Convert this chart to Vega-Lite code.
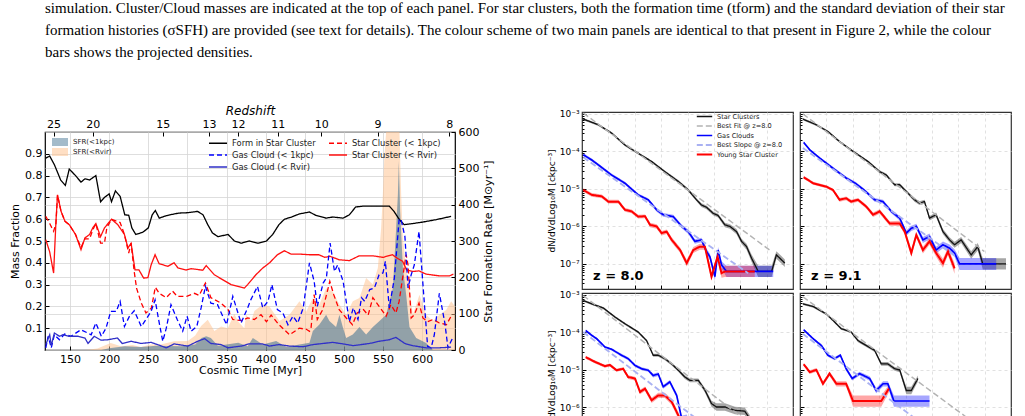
{
  "$schema": "https://vega.github.io/schema/vega-lite/v6.json",
  "background": "white",
  "padding": {"left": 8, "top": 1, "right": 0, "bottom": 0},
  "title": {
    "text": [
      "simulation. Cluster/Cloud masses are indicated at the top of each panel. For star clusters, both the formation time (tform) and the standard deviation of their star",
      "formation histories (σSFH) are provided (see text for details). The colour scheme of two main panels are identical to that present in Figure 2, while the colour",
      "bars shows the projected densities."
    ],
    "anchor": "start",
    "frame": "group",
    "font": "Liberation Serif",
    "fontSize": 15,
    "fontWeight": "normal",
    "color": "#000000",
    "lineHeight": 22,
    "offset": 43
  },
  "datasets": {
    "fraction": [
      {"t":119,"s":"Form in Star Cluster","f":0.88},{"t":124,"s":"Form in Star Cluster","f":0.89},{"t":130,"s":"Form in Star Cluster","f":0.85},{"t":138,"s":"Form in Star Cluster","f":0.78},{"t":144,"s":"Form in Star Cluster","f":0.755},{"t":149,"s":"Form in Star Cluster","f":0.83},{"t":157,"s":"Form in Star Cluster","f":0.8},{"t":164,"s":"Form in Star Cluster","f":0.77},{"t":169,"s":"Form in Star Cluster","f":0.785},{"t":175,"s":"Form in Star Cluster","f":0.78},{"t":183,"s":"Form in Star Cluster","f":0.8},{"t":189,"s":"Form in Star Cluster","f":0.68},{"t":194,"s":"Form in Star Cluster","f":0.7},{"t":200,"s":"Form in Star Cluster","f":0.716},{"t":203,"s":"Form in Star Cluster","f":0.68},{"t":208,"s":"Form in Star Cluster","f":0.73},{"t":214,"s":"Form in Star Cluster","f":0.705},{"t":220,"s":"Form in Star Cluster","f":0.62},{"t":225,"s":"Form in Star Cluster","f":0.618},{"t":229,"s":"Form in Star Cluster","f":0.56},{"t":234,"s":"Form in Star Cluster","f":0.53},{"t":243,"s":"Form in Star Cluster","f":0.54},{"t":250,"s":"Form in Star Cluster","f":0.56},{"t":255,"s":"Form in Star Cluster","f":0.62},{"t":259,"s":"Form in Star Cluster","f":0.64},{"t":264,"s":"Form in Star Cluster","f":0.605},{"t":273,"s":"Form in Star Cluster","f":0.616},{"t":283,"s":"Form in Star Cluster","f":0.624},{"t":289,"s":"Form in Star Cluster","f":0.628},{"t":301,"s":"Form in Star Cluster","f":0.63},{"t":313,"s":"Form in Star Cluster","f":0.636},{"t":320,"s":"Form in Star Cluster","f":0.62},{"t":326,"s":"Form in Star Cluster","f":0.575},{"t":332,"s":"Form in Star Cluster","f":0.537},{"t":339,"s":"Form in Star Cluster","f":0.52},{"t":352,"s":"Form in Star Cluster","f":0.53},{"t":360,"s":"Form in Star Cluster","f":0.5},{"t":369,"s":"Form in Star Cluster","f":0.49},{"t":379,"s":"Form in Star Cluster","f":0.5},{"t":390,"s":"Form in Star Cluster","f":0.49},{"t":401,"s":"Form in Star Cluster","f":0.5},{"t":409,"s":"Form in Star Cluster","f":0.53},{"t":417,"s":"Form in Star Cluster","f":0.575},{"t":424,"s":"Form in Star Cluster","f":0.6},{"t":433,"s":"Form in Star Cluster","f":0.61},{"t":443,"s":"Form in Star Cluster","f":0.624},{"t":456,"s":"Form in Star Cluster","f":0.633},{"t":464,"s":"Form in Star Cluster","f":0.618},{"t":477,"s":"Form in Star Cluster","f":0.605},{"t":486,"s":"Form in Star Cluster","f":0.61},{"t":499,"s":"Form in Star Cluster","f":0.605},{"t":507,"s":"Form in Star Cluster","f":0.62},{"t":515,"s":"Form in Star Cluster","f":0.656},{"t":525,"s":"Form in Star Cluster","f":0.66},{"t":537,"s":"Form in Star Cluster","f":0.66},{"t":550,"s":"Form in Star Cluster","f":0.66},{"t":558,"s":"Form in Star Cluster","f":0.66},{"t":564,"s":"Form in Star Cluster","f":0.636},{"t":571,"s":"Form in Star Cluster","f":0.598},{"t":577,"s":"Form in Star Cluster","f":0.575},{"t":588,"s":"Form in Star Cluster","f":0.58},{"t":601,"s":"Form in Star Cluster","f":0.587},{"t":618,"s":"Form in Star Cluster","f":0.598},{"t":637,"s":"Form in Star Cluster","f":0.613},

      {"t":119,"s":"Star Cluster (< Rvir)","f":0.506},{"t":124,"s":"Star Cluster (< Rvir)","f":0.45},{"t":129,"s":"Star Cluster (< Rvir)","f":0.353},{"t":132,"s":"Star Cluster (< Rvir)","f":0.59},{"t":134,"s":"Star Cluster (< Rvir)","f":0.712},{"t":138.5,"s":"Star Cluster (< Rvir)","f":0.636},{"t":143.6,"s":"Star Cluster (< Rvir)","f":0.59},{"t":149,"s":"Star Cluster (< Rvir)","f":0.575},{"t":157,"s":"Star Cluster (< Rvir)","f":0.53},{"t":164,"s":"Star Cluster (< Rvir)","f":0.46},{"t":169,"s":"Star Cluster (< Rvir)","f":0.514},{"t":175,"s":"Star Cluster (< Rvir)","f":0.53},{"t":179,"s":"Star Cluster (< Rvir)","f":0.56},{"t":183,"s":"Star Cluster (< Rvir)","f":0.58},{"t":189,"s":"Star Cluster (< Rvir)","f":0.52},{"t":194,"s":"Star Cluster (< Rvir)","f":0.56},{"t":203,"s":"Star Cluster (< Rvir)","f":0.6},{"t":211,"s":"Star Cluster (< Rvir)","f":0.575},{"t":219.5,"s":"Star Cluster (< Rvir)","f":0.53},{"t":224,"s":"Star Cluster (< Rvir)","f":0.468},{"t":228,"s":"Star Cluster (< Rvir)","f":0.49},{"t":233,"s":"Star Cluster (< Rvir)","f":0.368},{"t":238,"s":"Star Cluster (< Rvir)","f":0.368},{"t":244,"s":"Star Cluster (< Rvir)","f":0.33},{"t":249.5,"s":"Star Cluster (< Rvir)","f":0.332},{"t":253.6,"s":"Star Cluster (< Rvir)","f":0.39},{"t":258.7,"s":"Star Cluster (< Rvir)","f":0.437},{"t":263.8,"s":"Star Cluster (< Rvir)","f":0.396},{"t":275,"s":"Star Cluster (< Rvir)","f":0.384},{"t":283,"s":"Star Cluster (< Rvir)","f":0.4},{"t":288,"s":"Star Cluster (< Rvir)","f":0.376},{"t":298.6,"s":"Star Cluster (< Rvir)","f":0.367},{"t":305,"s":"Star Cluster (< Rvir)","f":0.373},{"t":319.6,"s":"Star Cluster (< Rvir)","f":0.366},{"t":324,"s":"Star Cluster (< Rvir)","f":0.387},{"t":334.4,"s":"Star Cluster (< Rvir)","f":0.345},{"t":355.8,"s":"Star Cluster (< Rvir)","f":0.3},{"t":372.8,"s":"Star Cluster (< Rvir)","f":0.284},{"t":377,"s":"Star Cluster (< Rvir)","f":0.3},{"t":387.5,"s":"Star Cluster (< Rvir)","f":0.345},{"t":396.3,"s":"Star Cluster (< Rvir)","f":0.376},{"t":405,"s":"Star Cluster (< Rvir)","f":0.4},{"t":415,"s":"Star Cluster (< Rvir)","f":0.437},{"t":424,"s":"Star Cluster (< Rvir)","f":0.455},{"t":432.5,"s":"Star Cluster (< Rvir)","f":0.44},{"t":443,"s":"Star Cluster (< Rvir)","f":0.44},{"t":456,"s":"Star Cluster (< Rvir)","f":0.437},{"t":468,"s":"Star Cluster (< Rvir)","f":0.437},{"t":475.5,"s":"Star Cluster (< Rvir)","f":0.425},{"t":482,"s":"Star Cluster (< Rvir)","f":0.43},{"t":494,"s":"Star Cluster (< Rvir)","f":0.414},{"t":507,"s":"Star Cluster (< Rvir)","f":0.41},{"t":519.5,"s":"Star Cluster (< Rvir)","f":0.432},{"t":537,"s":"Star Cluster (< Rvir)","f":0.432},{"t":550,"s":"Star Cluster (< Rvir)","f":0.425},{"t":562,"s":"Star Cluster (< Rvir)","f":0.437},{"t":568.6,"s":"Star Cluster (< Rvir)","f":0.42},{"t":575,"s":"Star Cluster (< Rvir)","f":0.407},{"t":580,"s":"Star Cluster (< Rvir)","f":0.368},{"t":588,"s":"Star Cluster (< Rvir)","f":0.36},{"t":596,"s":"Star Cluster (< Rvir)","f":0.363},{"t":605,"s":"Star Cluster (< Rvir)","f":0.348},{"t":622,"s":"Star Cluster (< Rvir)","f":0.34},{"t":635,"s":"Star Cluster (< Rvir)","f":0.34},{"t":640,"s":"Star Cluster (< Rvir)","f":0.348},

      {"t":119,"s":"Star Cluster (< 1kpc)","f":0.613},{"t":124,"s":"Star Cluster (< 1kpc)","f":0.58},{"t":129,"s":"Star Cluster (< 1kpc)","f":0.545},{"t":132,"s":"Star Cluster (< 1kpc)","f":0.58},{"t":134,"s":"Star Cluster (< 1kpc)","f":0.71},{"t":138.5,"s":"Star Cluster (< 1kpc)","f":0.636},{"t":143.6,"s":"Star Cluster (< 1kpc)","f":0.59},{"t":149,"s":"Star Cluster (< 1kpc)","f":0.575},{"t":157,"s":"Star Cluster (< 1kpc)","f":0.53},{"t":164,"s":"Star Cluster (< 1kpc)","f":0.47},{"t":169,"s":"Star Cluster (< 1kpc)","f":0.51},{"t":175,"s":"Star Cluster (< 1kpc)","f":0.51},{"t":179,"s":"Star Cluster (< 1kpc)","f":0.55},{"t":183,"s":"Star Cluster (< 1kpc)","f":0.58},{"t":189,"s":"Star Cluster (< 1kpc)","f":0.49},{"t":194,"s":"Star Cluster (< 1kpc)","f":0.49},{"t":197,"s":"Star Cluster (< 1kpc)","f":0.56},{"t":203,"s":"Star Cluster (< 1kpc)","f":0.6},{"t":214,"s":"Star Cluster (< 1kpc)","f":0.585},{"t":219.5,"s":"Star Cluster (< 1kpc)","f":0.53},{"t":225,"s":"Star Cluster (< 1kpc)","f":0.445},{"t":228,"s":"Star Cluster (< 1kpc)","f":0.49},{"t":232,"s":"Star Cluster (< 1kpc)","f":0.36},{"t":235,"s":"Star Cluster (< 1kpc)","f":0.284},{"t":241,"s":"Star Cluster (< 1kpc)","f":0.216},{"t":247,"s":"Star Cluster (< 1kpc)","f":0.17},{"t":254,"s":"Star Cluster (< 1kpc)","f":0.193},{"t":259,"s":"Star Cluster (< 1kpc)","f":0.288},{"t":264,"s":"Star Cluster (< 1kpc)","f":0.26},{"t":273,"s":"Star Cluster (< 1kpc)","f":0.24},{"t":281,"s":"Star Cluster (< 1kpc)","f":0.27},{"t":287,"s":"Star Cluster (< 1kpc)","f":0.246},{"t":299,"s":"Star Cluster (< 1kpc)","f":0.246},{"t":309,"s":"Star Cluster (< 1kpc)","f":0.26},{"t":315,"s":"Star Cluster (< 1kpc)","f":0.25},{"t":323,"s":"Star Cluster (< 1kpc)","f":0.307},{"t":330,"s":"Star Cluster (< 1kpc)","f":0.24},{"t":343,"s":"Star Cluster (< 1kpc)","f":0.215},{"t":352,"s":"Star Cluster (< 1kpc)","f":0.185},{"t":358,"s":"Star Cluster (< 1kpc)","f":0.14},{"t":369,"s":"Star Cluster (< 1kpc)","f":0.135},{"t":377,"s":"Star Cluster (< 1kpc)","f":0.147},{"t":385.5,"s":"Star Cluster (< 1kpc)","f":0.14},{"t":394,"s":"Star Cluster (< 1kpc)","f":0.162},{"t":401,"s":"Star Cluster (< 1kpc)","f":0.13},{"t":407,"s":"Star Cluster (< 1kpc)","f":0.16},{"t":417,"s":"Star Cluster (< 1kpc)","f":0.116},{"t":430.5,"s":"Star Cluster (< 1kpc)","f":0.07},{"t":443,"s":"Star Cluster (< 1kpc)","f":0.1},{"t":452,"s":"Star Cluster (< 1kpc)","f":0.095},{"t":456,"s":"Star Cluster (< 1kpc)","f":0.086},{"t":458,"s":"Star Cluster (< 1kpc)","f":0.1},{"t":462,"s":"Star Cluster (< 1kpc)","f":0.254},{"t":466,"s":"Star Cluster (< 1kpc)","f":0.14},{"t":473,"s":"Star Cluster (< 1kpc)","f":0.185},{"t":482,"s":"Star Cluster (< 1kpc)","f":0.315},{"t":487,"s":"Star Cluster (< 1kpc)","f":0.254},{"t":494,"s":"Star Cluster (< 1kpc)","f":0.185},{"t":503,"s":"Star Cluster (< 1kpc)","f":0.147},{"t":511,"s":"Star Cluster (< 1kpc)","f":0.116},{"t":517,"s":"Star Cluster (< 1kpc)","f":0.17},{"t":525,"s":"Star Cluster (< 1kpc)","f":0.185},{"t":531,"s":"Star Cluster (< 1kpc)","f":0.16},{"t":537,"s":"Star Cluster (< 1kpc)","f":0.24},{"t":545,"s":"Star Cluster (< 1kpc)","f":0.2},{"t":554,"s":"Star Cluster (< 1kpc)","f":0.155},{"t":560,"s":"Star Cluster (< 1kpc)","f":0.208},{"t":566.5,"s":"Star Cluster (< 1kpc)","f":0.17},{"t":570.6,"s":"Star Cluster (< 1kpc)","f":0.223},{"t":575,"s":"Star Cluster (< 1kpc)","f":0.33},{"t":579.5,"s":"Star Cluster (< 1kpc)","f":0.437},{"t":582,"s":"Star Cluster (< 1kpc)","f":0.39},{"t":586,"s":"Star Cluster (< 1kpc)","f":0.147},{"t":590,"s":"Star Cluster (< 1kpc)","f":0.162},{"t":596,"s":"Star Cluster (< 1kpc)","f":0.215},{"t":601,"s":"Star Cluster (< 1kpc)","f":0.147},{"t":607,"s":"Star Cluster (< 1kpc)","f":0.13},{"t":614,"s":"Star Cluster (< 1kpc)","f":0.14},{"t":622,"s":"Star Cluster (< 1kpc)","f":0.124},{"t":631,"s":"Star Cluster (< 1kpc)","f":0.116},{"t":637,"s":"Star Cluster (< 1kpc)","f":0.155},

      {"t":119,"s":"Gas Cloud (< 1kpc)","f":0.01},{"t":122,"s":"Gas Cloud (< 1kpc)","f":0.063},{"t":126,"s":"Gas Cloud (< 1kpc)","f":0.01},{"t":130,"s":"Gas Cloud (< 1kpc)","f":0.07},{"t":136.5,"s":"Gas Cloud (< 1kpc)","f":0.047},{"t":143,"s":"Gas Cloud (< 1kpc)","f":0.073},{"t":151,"s":"Gas Cloud (< 1kpc)","f":0.063},{"t":164,"s":"Gas Cloud (< 1kpc)","f":0.093},{"t":177,"s":"Gas Cloud (< 1kpc)","f":0.07},{"t":183,"s":"Gas Cloud (< 1kpc)","f":0.124},{"t":190,"s":"Gas Cloud (< 1kpc)","f":0.063},{"t":196,"s":"Gas Cloud (< 1kpc)","f":0.1},{"t":202,"s":"Gas Cloud (< 1kpc)","f":0.177},{"t":209,"s":"Gas Cloud (< 1kpc)","f":0.177},{"t":214,"s":"Gas Cloud (< 1kpc)","f":0.223},{"t":219.5,"s":"Gas Cloud (< 1kpc)","f":0.108},{"t":226,"s":"Gas Cloud (< 1kpc)","f":0.155},{"t":232,"s":"Gas Cloud (< 1kpc)","f":0.18},{"t":241,"s":"Gas Cloud (< 1kpc)","f":0.108},{"t":247,"s":"Gas Cloud (< 1kpc)","f":0.14},{"t":253.6,"s":"Gas Cloud (< 1kpc)","f":0.177},{"t":258.7,"s":"Gas Cloud (< 1kpc)","f":0.23},{"t":264,"s":"Gas Cloud (< 1kpc)","f":0.124},{"t":268.5,"s":"Gas Cloud (< 1kpc)","f":0.04},{"t":273,"s":"Gas Cloud (< 1kpc)","f":0.1},{"t":279,"s":"Gas Cloud (< 1kpc)","f":0.208},{"t":287,"s":"Gas Cloud (< 1kpc)","f":0.14},{"t":294,"s":"Gas Cloud (< 1kpc)","f":0.086},{"t":299.6,"s":"Gas Cloud (< 1kpc)","f":0.155},{"t":304.7,"s":"Gas Cloud (< 1kpc)","f":0.086},{"t":312,"s":"Gas Cloud (< 1kpc)","f":0.108},{"t":317.5,"s":"Gas Cloud (< 1kpc)","f":0.193},{"t":323,"s":"Gas Cloud (< 1kpc)","f":0.292},{"t":330,"s":"Gas Cloud (< 1kpc)","f":0.215},{"t":338.5,"s":"Gas Cloud (< 1kpc)","f":0.208},{"t":350,"s":"Gas Cloud (< 1kpc)","f":0.116},{"t":358,"s":"Gas Cloud (< 1kpc)","f":0.246},{"t":368.6,"s":"Gas Cloud (< 1kpc)","f":0.124},{"t":377,"s":"Gas Cloud (< 1kpc)","f":0.193},{"t":381,"s":"Gas Cloud (< 1kpc)","f":0.23},{"t":389.6,"s":"Gas Cloud (< 1kpc)","f":0.292},{"t":396.3,"s":"Gas Cloud (< 1kpc)","f":0.193},{"t":403,"s":"Gas Cloud (< 1kpc)","f":0.223},{"t":408,"s":"Gas Cloud (< 1kpc)","f":0.3},{"t":415,"s":"Gas Cloud (< 1kpc)","f":0.185},{"t":422,"s":"Gas Cloud (< 1kpc)","f":0.17},{"t":428.5,"s":"Gas Cloud (< 1kpc)","f":0.116},{"t":435,"s":"Gas Cloud (< 1kpc)","f":0.155},{"t":441,"s":"Gas Cloud (< 1kpc)","f":0.124},{"t":448,"s":"Gas Cloud (< 1kpc)","f":0.193},{"t":456,"s":"Gas Cloud (< 1kpc)","f":0.4},{"t":462,"s":"Gas Cloud (< 1kpc)","f":0.315},{"t":466,"s":"Gas Cloud (< 1kpc)","f":0.2},{"t":473.5,"s":"Gas Cloud (< 1kpc)","f":0.307},{"t":477.6,"s":"Gas Cloud (< 1kpc)","f":0.33},{"t":482.4,"s":"Gas Cloud (< 1kpc)","f":0.49},{"t":488,"s":"Gas Cloud (< 1kpc)","f":0.36},{"t":492,"s":"Gas Cloud (< 1kpc)","f":0.39},{"t":499,"s":"Gas Cloud (< 1kpc)","f":0.315},{"t":507,"s":"Gas Cloud (< 1kpc)","f":0.13},{"t":512,"s":"Gas Cloud (< 1kpc)","f":0.193},{"t":518,"s":"Gas Cloud (< 1kpc)","f":0.14},{"t":522.5,"s":"Gas Cloud (< 1kpc)","f":0.24},{"t":526.6,"s":"Gas Cloud (< 1kpc)","f":0.223},{"t":533,"s":"Gas Cloud (< 1kpc)","f":0.277},{"t":539,"s":"Gas Cloud (< 1kpc)","f":0.285},{"t":545,"s":"Gas Cloud (< 1kpc)","f":0.345},{"t":550,"s":"Gas Cloud (< 1kpc)","f":0.354},{"t":553,"s":"Gas Cloud (< 1kpc)","f":0.407},{"t":558,"s":"Gas Cloud (< 1kpc)","f":0.193},{"t":564.5,"s":"Gas Cloud (< 1kpc)","f":0.33},{"t":570.6,"s":"Gas Cloud (< 1kpc)","f":0.6},{"t":573,"s":"Gas Cloud (< 1kpc)","f":0.6},{"t":578,"s":"Gas Cloud (< 1kpc)","f":0.52},{"t":582,"s":"Gas Cloud (< 1kpc)","f":0.285},{"t":586,"s":"Gas Cloud (< 1kpc)","f":0.345},{"t":590,"s":"Gas Cloud (< 1kpc)","f":0.39},{"t":596,"s":"Gas Cloud (< 1kpc)","f":0.544},{"t":602,"s":"Gas Cloud (< 1kpc)","f":0.254},{"t":607,"s":"Gas Cloud (< 1kpc)","f":0.017},{"t":611.5,"s":"Gas Cloud (< 1kpc)","f":0.01},{"t":615.6,"s":"Gas Cloud (< 1kpc)","f":0.07},{"t":622,"s":"Gas Cloud (< 1kpc)","f":0.26},{"t":629,"s":"Gas Cloud (< 1kpc)","f":0.124},{"t":633,"s":"Gas Cloud (< 1kpc)","f":0.01},{"t":639,"s":"Gas Cloud (< 1kpc)","f":0.055},

      {"t":119,"s":"Gas Cloud (< Rvir)","f":0.025},{"t":124,"s":"Gas Cloud (< Rvir)","f":0.07},{"t":126,"s":"Gas Cloud (< Rvir)","f":0.02},{"t":130,"s":"Gas Cloud (< Rvir)","f":0.078},{"t":136.5,"s":"Gas Cloud (< Rvir)","f":0.063},{"t":141,"s":"Gas Cloud (< Rvir)","f":0.07},{"t":148,"s":"Gas Cloud (< Rvir)","f":0.063},{"t":160.5,"s":"Gas Cloud (< Rvir)","f":0.063},{"t":169,"s":"Gas Cloud (< Rvir)","f":0.055},{"t":173,"s":"Gas Cloud (< Rvir)","f":0.03},{"t":181,"s":"Gas Cloud (< Rvir)","f":0.063},{"t":189.6,"s":"Gas Cloud (< Rvir)","f":0.045},{"t":198,"s":"Gas Cloud (< Rvir)","f":0.047},{"t":210.6,"s":"Gas Cloud (< Rvir)","f":0.055},{"t":216.7,"s":"Gas Cloud (< Rvir)","f":0.03},{"t":228,"s":"Gas Cloud (< Rvir)","f":0.04},{"t":241,"s":"Gas Cloud (< Rvir)","f":0.03},{"t":253.6,"s":"Gas Cloud (< Rvir)","f":0.035},{"t":261.7,"s":"Gas Cloud (< Rvir)","f":0.025},{"t":273,"s":"Gas Cloud (< Rvir)","f":0.01},{"t":283,"s":"Gas Cloud (< Rvir)","f":0.028},{"t":300.6,"s":"Gas Cloud (< Rvir)","f":0.018},{"t":313,"s":"Gas Cloud (< Rvir)","f":0.04},{"t":322,"s":"Gas Cloud (< Rvir)","f":0.052},{"t":330,"s":"Gas Cloud (< Rvir)","f":0.03},{"t":343,"s":"Gas Cloud (< Rvir)","f":0.025},{"t":351.7,"s":"Gas Cloud (< Rvir)","f":0.01},{"t":368.6,"s":"Gas Cloud (< Rvir)","f":0.018},{"t":379,"s":"Gas Cloud (< Rvir)","f":0.028},{"t":396,"s":"Gas Cloud (< Rvir)","f":0.028},{"t":405,"s":"Gas Cloud (< Rvir)","f":0.018},{"t":417,"s":"Gas Cloud (< Rvir)","f":0.025},{"t":430.5,"s":"Gas Cloud (< Rvir)","f":0.018},{"t":448,"s":"Gas Cloud (< Rvir)","f":0.015},{"t":460.7,"s":"Gas Cloud (< Rvir)","f":0.025},{"t":473.5,"s":"Gas Cloud (< Rvir)","f":0.03},{"t":485.7,"s":"Gas Cloud (< Rvir)","f":0.035},{"t":499,"s":"Gas Cloud (< Rvir)","f":0.028},{"t":511.8,"s":"Gas Cloud (< Rvir)","f":0.02},{"t":532.8,"s":"Gas Cloud (< Rvir)","f":0.03},{"t":545,"s":"Gas Cloud (< Rvir)","f":0.04},{"t":558,"s":"Gas Cloud (< Rvir)","f":0.047},{"t":566.5,"s":"Gas Cloud (< Rvir)","f":0.058},{"t":577.8,"s":"Gas Cloud (< Rvir)","f":0.03},{"t":588,"s":"Gas Cloud (< Rvir)","f":0.02},{"t":605,"s":"Gas Cloud (< Rvir)","f":0.01},{"t":622,"s":"Gas Cloud (< Rvir)","f":0.01},{"t":637,"s":"Gas Cloud (< Rvir)","f":0.013}
    ],
    "sfr": [
      {"t":119,"src":"SFR(<Rvir)","v":0},{"t":170,"src":"SFR(<Rvir)","v":0},{"t":185,"src":"SFR(<Rvir)","v":4},{"t":202,"src":"SFR(<Rvir)","v":19},{"t":215,"src":"SFR(<Rvir)","v":10},{"t":230,"src":"SFR(<Rvir)","v":14},{"t":240,"src":"SFR(<Rvir)","v":8},{"t":253.6,"src":"SFR(<Rvir)","v":15},{"t":266,"src":"SFR(<Rvir)","v":15},{"t":283,"src":"SFR(<Rvir)","v":24},{"t":300.5,"src":"SFR(<Rvir)","v":25},{"t":310,"src":"SFR(<Rvir)","v":40},{"t":317.5,"src":"SFR(<Rvir)","v":66},{"t":326,"src":"SFR(<Rvir)","v":83},{"t":334.5,"src":"SFR(<Rvir)","v":52},{"t":343,"src":"SFR(<Rvir)","v":65},{"t":351.6,"src":"SFR(<Rvir)","v":60},{"t":360,"src":"SFR(<Rvir)","v":100},{"t":364.4,"src":"SFR(<Rvir)","v":79},{"t":372.8,"src":"SFR(<Rvir)","v":60},{"t":375,"src":"SFR(<Rvir)","v":97},{"t":381.4,"src":"SFR(<Rvir)","v":79},{"t":385.6,"src":"SFR(<Rvir)","v":107},{"t":396.3,"src":"SFR(<Rvir)","v":125},{"t":404.8,"src":"SFR(<Rvir)","v":120},{"t":417.6,"src":"SFR(<Rvir)","v":80},{"t":430.4,"src":"SFR(<Rvir)","v":97},{"t":443.2,"src":"SFR(<Rvir)","v":134},{"t":451.7,"src":"SFR(<Rvir)","v":105},{"t":460.3,"src":"SFR(<Rvir)","v":143},{"t":468.7,"src":"SFR(<Rvir)","v":125},{"t":477.3,"src":"SFR(<Rvir)","v":170},{"t":485.9,"src":"SFR(<Rvir)","v":160},{"t":494.3,"src":"SFR(<Rvir)","v":125},{"t":502.9,"src":"SFR(<Rvir)","v":97},{"t":511.4,"src":"SFR(<Rvir)","v":134},{"t":519.9,"src":"SFR(<Rvir)","v":143},{"t":528.4,"src":"SFR(<Rvir)","v":198},{"t":537,"src":"SFR(<Rvir)","v":180},{"t":543.4,"src":"SFR(<Rvir)","v":226},{"t":547.6,"src":"SFR(<Rvir)","v":336},{"t":549.8,"src":"SFR(<Rvir)","v":427},{"t":551.8,"src":"SFR(<Rvir)","v":537},{"t":554,"src":"SFR(<Rvir)","v":600},{"t":571,"src":"SFR(<Rvir)","v":600},{"t":573.2,"src":"SFR(<Rvir)","v":427},{"t":575.4,"src":"SFR(<Rvir)","v":308},{"t":579.6,"src":"SFR(<Rvir)","v":226},{"t":583.8,"src":"SFR(<Rvir)","v":170},{"t":588.1,"src":"SFR(<Rvir)","v":97},{"t":596.6,"src":"SFR(<Rvir)","v":152},{"t":605.1,"src":"SFR(<Rvir)","v":97},{"t":613.7,"src":"SFR(<Rvir)","v":80},{"t":622.2,"src":"SFR(<Rvir)","v":97},{"t":630.7,"src":"SFR(<Rvir)","v":110},{"t":637.1,"src":"SFR(<Rvir)","v":134},{"t":642,"src":"SFR(<Rvir)","v":120},

      {"t":119,"src":"SFR(<1kpc)","v":0},{"t":190,"src":"SFR(<1kpc)","v":0},{"t":200,"src":"SFR(<1kpc)","v":5},{"t":220,"src":"SFR(<1kpc)","v":10},{"t":241,"src":"SFR(<1kpc)","v":8},{"t":260,"src":"SFR(<1kpc)","v":12},{"t":292,"src":"SFR(<1kpc)","v":10},{"t":310,"src":"SFR(<1kpc)","v":15},{"t":318,"src":"SFR(<1kpc)","v":33},{"t":324,"src":"SFR(<1kpc)","v":38},{"t":330,"src":"SFR(<1kpc)","v":33},{"t":339,"src":"SFR(<1kpc)","v":12},{"t":350,"src":"SFR(<1kpc)","v":15},{"t":365,"src":"SFR(<1kpc)","v":20},{"t":377,"src":"SFR(<1kpc)","v":10},{"t":383.6,"src":"SFR(<1kpc)","v":33},{"t":396.3,"src":"SFR(<1kpc)","v":15},{"t":413.4,"src":"SFR(<1kpc)","v":25},{"t":426.2,"src":"SFR(<1kpc)","v":8},{"t":443.2,"src":"SFR(<1kpc)","v":15},{"t":456,"src":"SFR(<1kpc)","v":20},{"t":460.3,"src":"SFR(<1kpc)","v":52},{"t":468.7,"src":"SFR(<1kpc)","v":70},{"t":477.3,"src":"SFR(<1kpc)","v":97},{"t":481.5,"src":"SFR(<1kpc)","v":80},{"t":490,"src":"SFR(<1kpc)","v":63},{"t":494.3,"src":"SFR(<1kpc)","v":97},{"t":498.6,"src":"SFR(<1kpc)","v":63},{"t":502.9,"src":"SFR(<1kpc)","v":33},{"t":511.4,"src":"SFR(<1kpc)","v":43},{"t":519.9,"src":"SFR(<1kpc)","v":63},{"t":528.4,"src":"SFR(<1kpc)","v":43},{"t":537,"src":"SFR(<1kpc)","v":63},{"t":545.5,"src":"SFR(<1kpc)","v":80},{"t":554,"src":"SFR(<1kpc)","v":97},{"t":562.6,"src":"SFR(<1kpc)","v":170},{"t":566.8,"src":"SFR(<1kpc)","v":336},{"t":569,"src":"SFR(<1kpc)","v":427},{"t":570.2,"src":"SFR(<1kpc)","v":520},{"t":571.9,"src":"SFR(<1kpc)","v":382},{"t":575.4,"src":"SFR(<1kpc)","v":226},{"t":579.6,"src":"SFR(<1kpc)","v":152},{"t":583.8,"src":"SFR(<1kpc)","v":63},{"t":592.4,"src":"SFR(<1kpc)","v":33},{"t":605.1,"src":"SFR(<1kpc)","v":19},{"t":613.7,"src":"SFR(<1kpc)","v":0},{"t":642,"src":"SFR(<1kpc)","v":0}
    ],
    "redshift": [
      {"t":129,"z":25},{"t":179,"z":20},{"t":268.5,"z":15},{"t":327.7,"z":13},{"t":364.8,"z":12},{"t":415.5,"z":11},{"t":471,"z":10},{"t":543,"z":9},{"t":634.5,"z":8}
    ],
    "zlabel": [
      {"p":1,"m":3.42,"n":-7.32,"label":"z = 8.0"},
      {"p":2,"m":3.42,"n":-7.32,"label":"z = 9.1"}
    ],
    "mf": [
      {"p":1,"k":"Star Clusters","m":3.05,"n":-3.14,"d":0.03},{"p":1,"k":"Star Clusters","m":3.62,"n":-3.29,"d":0.03},{"p":1,"k":"Star Clusters","m":4.12,"n":-3.51,"d":0.03},{"p":1,"k":"Star Clusters","m":4.63,"n":-3.83,"d":0.03},{"p":1,"k":"Star Clusters","m":5.13,"n":-4.05,"d":0.03},{"p":1,"k":"Star Clusters","m":5.64,"n":-4.27,"d":0.03},{"p":1,"k":"Star Clusters","m":6.14,"n":-4.54,"d":0.03},{"p":1,"k":"Star Clusters","m":6.65,"n":-4.8,"d":0.04},{"p":1,"k":"Star Clusters","m":7.03,"n":-5.03,"d":0.04},{"p":1,"k":"Star Clusters","m":7.34,"n":-5.29,"d":0.04},{"p":1,"k":"Star Clusters","m":7.53,"n":-5.43,"d":0.05},{"p":1,"k":"Star Clusters","m":7.72,"n":-5.49,"d":0.05},{"p":1,"k":"Star Clusters","m":7.97,"n":-5.65,"d":0.05},{"p":1,"k":"Star Clusters","m":8.16,"n":-5.71,"d":0.05},{"p":1,"k":"Star Clusters","m":8.42,"n":-5.96,"d":0.06},{"p":1,"k":"Star Clusters","m":8.61,"n":-6.0,"d":0.06},{"p":1,"k":"Star Clusters","m":8.86,"n":-6.14,"d":0.07},{"p":1,"k":"Star Clusters","m":9.05,"n":-6.4,"d":0.07},{"p":1,"k":"Star Clusters","m":9.24,"n":-6.54,"d":0.08},{"p":1,"k":"Star Clusters","m":9.43,"n":-6.85,"d":0.1},{"p":1,"k":"Star Clusters","m":9.68,"n":-7.2,"d":0.15},{"p":1,"k":"Star Clusters","m":10.19,"n":-7.2,"d":0.15},{"p":1,"k":"Star Clusters","m":10.37,"n":-6.76,"d":0.1},{"p":1,"k":"Star Clusters","m":10.56,"n":-6.89,"d":0.1},{"p":1,"k":"Star Clusters","m":10.69,"n":-6.98,"d":0.1},
      {"p":1,"k":"Gas Clouds","m":3.05,"n":-4.09,"d":0.04},{"p":1,"k":"Gas Clouds","m":3.37,"n":-4.23,"d":0.04},{"p":1,"k":"Gas Clouds","m":3.62,"n":-4.36,"d":0.04},{"p":1,"k":"Gas Clouds","m":4.12,"n":-4.63,"d":0.04},{"p":1,"k":"Gas Clouds","m":4.63,"n":-4.85,"d":0.04},{"p":1,"k":"Gas Clouds","m":5.13,"n":-5.16,"d":0.04},{"p":1,"k":"Gas Clouds","m":5.51,"n":-5.29,"d":0.04},{"p":1,"k":"Gas Clouds","m":5.83,"n":-5.56,"d":0.05},{"p":1,"k":"Gas Clouds","m":6.08,"n":-5.69,"d":0.05},{"p":1,"k":"Gas Clouds","m":6.46,"n":-5.74,"d":0.05},{"p":1,"k":"Gas Clouds","m":6.78,"n":-6.0,"d":0.05},{"p":1,"k":"Gas Clouds","m":7.03,"n":-6.14,"d":0.06},{"p":1,"k":"Gas Clouds","m":7.28,"n":-6.4,"d":0.06},{"p":1,"k":"Gas Clouds","m":7.53,"n":-6.36,"d":0.06},{"p":1,"k":"Gas Clouds","m":7.72,"n":-6.67,"d":0.08},{"p":1,"k":"Gas Clouds","m":7.85,"n":-6.81,"d":0.08},{"p":1,"k":"Gas Clouds","m":8.04,"n":-7.34,"d":0.1},{"p":1,"k":"Gas Clouds","m":8.16,"n":-6.63,"d":0.08},{"p":1,"k":"Gas Clouds","m":8.29,"n":-7.03,"d":0.1},{"p":1,"k":"Gas Clouds","m":8.48,"n":-7.2,"d":0.15},{"p":1,"k":"Gas Clouds","m":10.25,"n":-7.2,"d":0.15},
      {"p":1,"k":"Young Star Cluster","m":3.05,"n":-5.03,"d":0.05},{"p":1,"k":"Young Star Cluster","m":3.37,"n":-5.16,"d":0.05},{"p":1,"k":"Young Star Cluster","m":3.75,"n":-5.2,"d":0.05},{"p":1,"k":"Young Star Cluster","m":4.0,"n":-5.34,"d":0.05},{"p":1,"k":"Young Star Cluster","m":4.38,"n":-5.34,"d":0.05},{"p":1,"k":"Young Star Cluster","m":4.63,"n":-5.56,"d":0.05},{"p":1,"k":"Young Star Cluster","m":4.88,"n":-5.6,"d":0.05},{"p":1,"k":"Young Star Cluster","m":5.13,"n":-5.74,"d":0.05},{"p":1,"k":"Young Star Cluster","m":5.39,"n":-5.73,"d":0.05},{"p":1,"k":"Young Star Cluster","m":5.58,"n":-5.96,"d":0.06},{"p":1,"k":"Young Star Cluster","m":5.83,"n":-6.0,"d":0.06},{"p":1,"k":"Young Star Cluster","m":6.02,"n":-6.18,"d":0.06},{"p":1,"k":"Young Star Cluster","m":6.21,"n":-6.14,"d":0.06},{"p":1,"k":"Young Star Cluster","m":6.4,"n":-6.36,"d":0.07},{"p":1,"k":"Young Star Cluster","m":6.72,"n":-6.63,"d":0.07},{"p":1,"k":"Young Star Cluster","m":6.97,"n":-6.98,"d":0.09},{"p":1,"k":"Young Star Cluster","m":7.22,"n":-6.63,"d":0.08},{"p":1,"k":"Young Star Cluster","m":7.47,"n":-6.54,"d":0.08},{"p":1,"k":"Young Star Cluster","m":7.66,"n":-6.54,"d":0.08},{"p":1,"k":"Young Star Cluster","m":7.91,"n":-7.34,"d":0.1},{"p":1,"k":"Young Star Cluster","m":8.14,"n":-6.81,"d":0.09},{"p":1,"k":"Young Star Cluster","m":8.29,"n":-7.25,"d":0.12},{"p":1,"k":"Young Star Cluster","m":8.42,"n":-7.2,"d":0.15},{"p":1,"k":"Young Star Cluster","m":9.55,"n":-7.2,"d":0.15},
      {"p":1,"k":"Best Fit @ z=8.0","m":3.05,"n":-2.98},{"p":1,"k":"Best Fit @ z=8.0","m":10.19,"n":-6.67},
      {"p":1,"k":"Best Slope @ z=8.0","m":3.05,"n":-4.16},{"p":1,"k":"Best Slope @ z=8.0","m":9.3,"n":-7.25},

      {"p":2,"k":"Star Clusters","m":3.11,"n":-3.14,"d":0.03},{"p":2,"k":"Star Clusters","m":3.62,"n":-3.29,"d":0.03},{"p":2,"k":"Star Clusters","m":4.06,"n":-3.47,"d":0.03},{"p":2,"k":"Star Clusters","m":4.5,"n":-3.74,"d":0.03},{"p":2,"k":"Star Clusters","m":5.01,"n":-4.0,"d":0.03},{"p":2,"k":"Star Clusters","m":5.58,"n":-4.27,"d":0.03},{"p":2,"k":"Star Clusters","m":6.02,"n":-4.54,"d":0.04},{"p":2,"k":"Star Clusters","m":6.27,"n":-4.63,"d":0.04},{"p":2,"k":"Star Clusters","m":6.59,"n":-4.89,"d":0.04},{"p":2,"k":"Star Clusters","m":6.78,"n":-4.89,"d":0.04},{"p":2,"k":"Star Clusters","m":7.03,"n":-5.07,"d":0.04},{"p":2,"k":"Star Clusters","m":7.34,"n":-5.29,"d":0.05},{"p":2,"k":"Star Clusters","m":7.53,"n":-5.38,"d":0.05},{"p":2,"k":"Star Clusters","m":7.72,"n":-5.34,"d":0.05},{"p":2,"k":"Star Clusters","m":7.91,"n":-5.78,"d":0.06},{"p":2,"k":"Star Clusters","m":8.16,"n":-5.69,"d":0.06},{"p":2,"k":"Star Clusters","m":8.42,"n":-6.14,"d":0.07},{"p":2,"k":"Star Clusters","m":8.67,"n":-6.36,"d":0.07},{"p":2,"k":"Star Clusters","m":8.86,"n":-6.49,"d":0.08},{"p":2,"k":"Star Clusters","m":9.11,"n":-6.36,"d":0.08},{"p":2,"k":"Star Clusters","m":9.49,"n":-6.76,"d":0.1},{"p":2,"k":"Star Clusters","m":9.74,"n":-6.54,"d":0.1},{"p":2,"k":"Star Clusters","m":9.93,"n":-7.0,"d":0.15},{"p":2,"k":"Star Clusters","m":10.81,"n":-7.0,"d":0.15},
      {"p":2,"k":"Gas Clouds","m":3.14,"n":-3.76,"d":0.03},{"p":2,"k":"Gas Clouds","m":3.37,"n":-3.96,"d":0.03},{"p":2,"k":"Gas Clouds","m":3.75,"n":-4.18,"d":0.03},{"p":2,"k":"Gas Clouds","m":4.25,"n":-4.45,"d":0.04},{"p":2,"k":"Gas Clouds","m":4.75,"n":-4.71,"d":0.04},{"p":2,"k":"Gas Clouds","m":5.1,"n":-4.85,"d":0.04},{"p":2,"k":"Gas Clouds","m":5.43,"n":-5.03,"d":0.04},{"p":2,"k":"Gas Clouds","m":5.83,"n":-5.29,"d":0.05},{"p":2,"k":"Gas Clouds","m":6.15,"n":-5.34,"d":0.05},{"p":2,"k":"Gas Clouds","m":6.46,"n":-5.6,"d":0.05},{"p":2,"k":"Gas Clouds","m":6.78,"n":-5.78,"d":0.06},{"p":2,"k":"Gas Clouds","m":7.03,"n":-6.18,"d":0.07},{"p":2,"k":"Gas Clouds","m":7.22,"n":-6.05,"d":0.07},{"p":2,"k":"Gas Clouds","m":7.41,"n":-6.0,"d":0.07},{"p":2,"k":"Gas Clouds","m":7.66,"n":-6.36,"d":0.08},{"p":2,"k":"Gas Clouds","m":7.91,"n":-6.27,"d":0.08},{"p":2,"k":"Gas Clouds","m":8.16,"n":-6.63,"d":0.09},{"p":2,"k":"Gas Clouds","m":8.42,"n":-6.49,"d":0.09},{"p":2,"k":"Gas Clouds","m":8.67,"n":-6.58,"d":0.1},{"p":2,"k":"Gas Clouds","m":8.86,"n":-6.71,"d":0.1},{"p":2,"k":"Gas Clouds","m":9.05,"n":-7.0,"d":0.16},{"p":2,"k":"Gas Clouds","m":10.44,"n":-7.0,"d":0.16},
      {"p":2,"k":"Young Star Cluster","m":3.14,"n":-4.69,"d":0.04},{"p":2,"k":"Young Star Cluster","m":3.5,"n":-4.85,"d":0.04},{"p":2,"k":"Young Star Cluster","m":4.0,"n":-4.94,"d":0.04},{"p":2,"k":"Young Star Cluster","m":4.25,"n":-5.03,"d":0.04},{"p":2,"k":"Young Star Cluster","m":4.5,"n":-5.29,"d":0.05},{"p":2,"k":"Young Star Cluster","m":4.75,"n":-5.25,"d":0.05},{"p":2,"k":"Young Star Cluster","m":4.94,"n":-5.34,"d":0.05},{"p":2,"k":"Young Star Cluster","m":5.2,"n":-5.29,"d":0.05},{"p":2,"k":"Young Star Cluster","m":5.51,"n":-5.47,"d":0.05},{"p":2,"k":"Young Star Cluster","m":5.77,"n":-5.69,"d":0.06},{"p":2,"k":"Young Star Cluster","m":6.02,"n":-5.6,"d":0.06},{"p":2,"k":"Young Star Cluster","m":6.4,"n":-5.92,"d":0.06},{"p":2,"k":"Young Star Cluster","m":6.78,"n":-5.92,"d":0.07},{"p":2,"k":"Young Star Cluster","m":6.97,"n":-6.14,"d":0.07},{"p":2,"k":"Young Star Cluster","m":7.22,"n":-6.71,"d":0.1},{"p":2,"k":"Young Star Cluster","m":7.41,"n":-6.23,"d":0.08},{"p":2,"k":"Young Star Cluster","m":7.66,"n":-6.63,"d":0.09},{"p":2,"k":"Young Star Cluster","m":7.91,"n":-6.4,"d":0.09},{"p":2,"k":"Young Star Cluster","m":8.16,"n":-6.71,"d":0.1},{"p":2,"k":"Young Star Cluster","m":8.42,"n":-6.98,"d":0.12},{"p":2,"k":"Young Star Cluster","m":8.61,"n":-6.67,"d":0.1},{"p":2,"k":"Young Star Cluster","m":8.86,"n":-7.12,"d":0.14},
      {"p":2,"k":"Best Fit @ z=8.0","m":3.11,"n":-3.0},{"p":2,"k":"Best Fit @ z=8.0","m":9.99,"n":-6.67},
      {"p":2,"k":"Best Slope @ z=8.0","m":3.11,"n":-3.91},{"p":2,"k":"Best Slope @ z=8.0","m":8.92,"n":-6.81},

      {"p":3,"k":"Star Clusters","m":3.05,"n":-3.15,"d":0.03},{"p":3,"k":"Star Clusters","m":3.37,"n":-3.24,"d":0.03},{"p":3,"k":"Star Clusters","m":3.81,"n":-3.35,"d":0.03},{"p":3,"k":"Star Clusters","m":4.25,"n":-3.59,"d":0.03},{"p":3,"k":"Star Clusters","m":4.63,"n":-3.77,"d":0.03},{"p":3,"k":"Star Clusters","m":5.13,"n":-3.99,"d":0.03},{"p":3,"k":"Star Clusters","m":5.45,"n":-4.22,"d":0.03},{"p":3,"k":"Star Clusters","m":5.7,"n":-4.61,"d":0.04},{"p":3,"k":"Star Clusters","m":5.89,"n":-4.61,"d":0.04},{"p":3,"k":"Star Clusters","m":6.14,"n":-4.7,"d":0.04},{"p":3,"k":"Star Clusters","m":6.4,"n":-4.84,"d":0.04},{"p":3,"k":"Star Clusters","m":6.65,"n":-5.01,"d":0.04},{"p":3,"k":"Star Clusters","m":6.9,"n":-5.19,"d":0.05},{"p":3,"k":"Star Clusters","m":7.09,"n":-5.28,"d":0.05},{"p":3,"k":"Star Clusters","m":7.41,"n":-5.28,"d":0.05},{"p":3,"k":"Star Clusters","m":7.66,"n":-5.54,"d":0.06},{"p":3,"k":"Star Clusters","m":7.91,"n":-5.9,"d":0.08},{"p":3,"k":"Star Clusters","m":8.1,"n":-5.99,"d":0.1},{"p":3,"k":"Star Clusters","m":8.42,"n":-5.99,"d":0.1},{"p":3,"k":"Star Clusters","m":8.8,"n":-6.08,"d":0.1},{"p":3,"k":"Star Clusters","m":9.17,"n":-6.1,"d":0.1},{"p":3,"k":"Star Clusters","m":9.36,"n":-6.3,"d":0.1},
      {"p":3,"k":"Gas Clouds","m":3.14,"n":-3.95,"d":0.03},{"p":3,"k":"Gas Clouds","m":3.37,"n":-4.08,"d":0.03},{"p":3,"k":"Gas Clouds","m":3.56,"n":-4.17,"d":0.03},{"p":3,"k":"Gas Clouds","m":3.87,"n":-4.39,"d":0.03},{"p":3,"k":"Gas Clouds","m":4.12,"n":-4.45,"d":0.03},{"p":3,"k":"Gas Clouds","m":4.5,"n":-4.61,"d":0.04},{"p":3,"k":"Gas Clouds","m":4.75,"n":-4.7,"d":0.04},{"p":3,"k":"Gas Clouds","m":5.01,"n":-4.88,"d":0.04},{"p":3,"k":"Gas Clouds","m":5.26,"n":-4.97,"d":0.04},{"p":3,"k":"Gas Clouds","m":5.51,"n":-5.01,"d":0.04},{"p":3,"k":"Gas Clouds","m":5.7,"n":-5.15,"d":0.05},{"p":3,"k":"Gas Clouds","m":5.89,"n":-5.11,"d":0.05},{"p":3,"k":"Gas Clouds","m":6.08,"n":-5.45,"d":0.05},{"p":3,"k":"Gas Clouds","m":6.33,"n":-5.32,"d":0.05},{"p":3,"k":"Gas Clouds","m":6.59,"n":-5.68,"d":0.06},{"p":3,"k":"Gas Clouds","m":6.78,"n":-6.3,"d":0.08},{"p":3,"k":"Gas Clouds","m":6.97,"n":-6.27,"d":0.08},{"p":3,"k":"Gas Clouds","m":7.15,"n":-6.6,"d":0.1},
      {"p":3,"k":"Young Star Cluster","m":3.14,"n":-4.66,"d":0.04},{"p":3,"k":"Young Star Cluster","m":3.5,"n":-4.79,"d":0.04},{"p":3,"k":"Young Star Cluster","m":3.87,"n":-4.9,"d":0.04},{"p":3,"k":"Young Star Cluster","m":4.06,"n":-4.87,"d":0.04},{"p":3,"k":"Young Star Cluster","m":4.31,"n":-5.01,"d":0.04},{"p":3,"k":"Young Star Cluster","m":4.56,"n":-4.97,"d":0.04},{"p":3,"k":"Young Star Cluster","m":4.75,"n":-5.19,"d":0.05},{"p":3,"k":"Young Star Cluster","m":5.01,"n":-5.23,"d":0.05},{"p":3,"k":"Young Star Cluster","m":5.2,"n":-5.59,"d":0.06},{"p":3,"k":"Young Star Cluster","m":5.39,"n":-5.5,"d":0.06},{"p":3,"k":"Young Star Cluster","m":5.64,"n":-5.81,"d":0.07},{"p":3,"k":"Young Star Cluster","m":5.89,"n":-5.68,"d":0.07},{"p":3,"k":"Young Star Cluster","m":6.14,"n":-5.68,"d":0.07},{"p":3,"k":"Young Star Cluster","m":6.4,"n":-5.85,"d":0.08},{"p":3,"k":"Young Star Cluster","m":6.65,"n":-6.21,"d":0.09},{"p":3,"k":"Young Star Cluster","m":6.8,"n":-6.5,"d":0.1},
      {"p":3,"k":"Best Fit @ z=8.0","m":3.05,"n":-3.02},{"p":3,"k":"Best Fit @ z=8.0","m":10.0,"n":-6.77},
      {"p":3,"k":"Best Slope @ z=8.0","m":3.05,"n":-3.99},{"p":3,"k":"Best Slope @ z=8.0","m":8.5,"n":-6.93},

      {"p":4,"k":"Star Clusters","m":3.11,"n":-3.24,"d":0.03},{"p":4,"k":"Star Clusters","m":3.5,"n":-3.31,"d":0.03},{"p":4,"k":"Star Clusters","m":4.0,"n":-3.51,"d":0.03},{"p":4,"k":"Star Clusters","m":4.25,"n":-3.68,"d":0.03},{"p":4,"k":"Star Clusters","m":4.56,"n":-3.9,"d":0.03},{"p":4,"k":"Star Clusters","m":4.94,"n":-3.99,"d":0.03},{"p":4,"k":"Star Clusters","m":5.2,"n":-4.22,"d":0.04},{"p":4,"k":"Star Clusters","m":5.51,"n":-4.35,"d":0.04},{"p":4,"k":"Star Clusters","m":5.83,"n":-4.48,"d":0.04},{"p":4,"k":"Star Clusters","m":6.08,"n":-4.84,"d":0.05},{"p":4,"k":"Star Clusters","m":6.33,"n":-4.84,"d":0.05},{"p":4,"k":"Star Clusters","m":6.59,"n":-4.97,"d":0.05},{"p":4,"k":"Star Clusters","m":6.78,"n":-5.0,"d":0.06},{"p":4,"k":"Star Clusters","m":7.03,"n":-5.55,"d":0.1},{"p":4,"k":"Star Clusters","m":7.22,"n":-5.55,"d":0.1},{"p":4,"k":"Star Clusters","m":7.47,"n":-5.23,"d":0.08},
      {"p":4,"k":"Gas Clouds","m":3.14,"n":-3.93,"d":0.03},{"p":4,"k":"Gas Clouds","m":3.5,"n":-4.17,"d":0.03},{"p":4,"k":"Gas Clouds","m":3.81,"n":-4.35,"d":0.04},{"p":4,"k":"Gas Clouds","m":4.06,"n":-4.61,"d":0.04},{"p":4,"k":"Gas Clouds","m":4.31,"n":-4.7,"d":0.04},{"p":4,"k":"Gas Clouds","m":4.53,"n":-4.61,"d":0.04},{"p":4,"k":"Gas Clouds","m":4.75,"n":-4.97,"d":0.05},{"p":4,"k":"Gas Clouds","m":4.98,"n":-5.23,"d":0.05},{"p":4,"k":"Gas Clouds","m":5.26,"n":-5.1,"d":0.05},{"p":4,"k":"Gas Clouds","m":5.64,"n":-5.23,"d":0.06},{"p":4,"k":"Gas Clouds","m":5.89,"n":-5.55,"d":0.07},{"p":4,"k":"Gas Clouds","m":6.15,"n":-5.37,"d":0.07},{"p":4,"k":"Gas Clouds","m":6.33,"n":-5.37,"d":0.07},{"p":4,"k":"Gas Clouds","m":6.56,"n":-5.83,"d":0.15},{"p":4,"k":"Gas Clouds","m":7.91,"n":-5.83,"d":0.15},
      {"p":4,"k":"Young Star Cluster","m":3.14,"n":-4.85,"d":0.04},{"p":4,"k":"Young Star Cluster","m":3.37,"n":-5.06,"d":0.05},{"p":4,"k":"Young Star Cluster","m":3.62,"n":-5.0,"d":0.05},{"p":4,"k":"Young Star Cluster","m":3.87,"n":-5.37,"d":0.06},{"p":4,"k":"Young Star Cluster","m":4.12,"n":-5.1,"d":0.06},{"p":4,"k":"Young Star Cluster","m":4.38,"n":-5.37,"d":0.07},{"p":4,"k":"Young Star Cluster","m":4.75,"n":-5.37,"d":0.07},{"p":4,"k":"Young Star Cluster","m":5.01,"n":-5.83,"d":0.15},{"p":4,"k":"Young Star Cluster","m":6.08,"n":-5.83,"d":0.15},{"p":4,"k":"Young Star Cluster","m":6.37,"n":-5.5,"d":0.1},
      {"p":4,"k":"Best Fit @ z=8.0","m":3.11,"n":-3.05},{"p":4,"k":"Best Fit @ z=8.0","m":10.5,"n":-6.88},
      {"p":4,"k":"Best Slope @ z=8.0","m":3.11,"n":-4.04},{"p":4,"k":"Best Slope @ z=8.0","m":8.5,"n":-6.9}
    ]
  },
  "columns": 2,
  "align": "none",
  "spacing": 51,
  "resolve": {"scale": {"color": "independent", "fill": "independent", "stroke": "independent", "strokeDash": "independent", "strokeWidth": "independent"}},
  "concat": [
    {
      "spacing": -10,
      "resolve": {"scale": {"color": "independent", "fill": "independent", "stroke": "independent", "strokeDash": "independent", "strokeWidth": "independent"}},
      "vconcat": [
        {
          "width": 410,
          "height": 1,
          "data": {"values": [{"a": 0}]},
          "mark": {"type": "point", "opacity": 0, "size": 0},
          "encoding": {},
          "view": {"stroke": null}
        },
        {
          "width": 410,
          "height": 218,
          "view": {"stroke": "#000000", "strokeWidth": 1.2},
          "layer": [
            {
              "data": {"name": "sfr"},
              "encoding": {
                "x": {"field": "t", "type": "quantitative", "scale": {"domain": [118, 642], "nice": false, "zero": false}, "axis": null},
                "y": {"field": "v", "type": "quantitative", "scale": {"domain": [0, 600], "nice": false},
                      "axis": {"orient": "right", "values": [0, 100, 200, 300, 400, 500, 600], "title": "Star Formation Rate [M⊙yr⁻¹]", "titleAngle": 270, "titleBaseline": "top", "titlePadding": 4, "grid": true}},
                "fill": {"field": "src", "type": "nominal",
                         "scale": {"domain": ["SFR(<1kpc)", "SFR(<Rvir)"], "range": ["#4a7896", "#ffbf8a"]},
                         "legend": {"title": null, "orient": "none", "legendX": 10, "legendY": 5, "padding": 0, "symbolType": "M-1.6,-0.8H1.6V0.8H-1.6Z", "symbolSize": 100, "symbolStrokeWidth": 0, "labelFontSize": 7, "labelOffset": 8, "rowPadding": 1}}
              },
              "layer": [
                {"transform": [{"filter": "datum.src == 'SFR(<Rvir)'"}], "mark": {"type": "area", "opacity": 0.5, "clip": true}},
                {"transform": [{"filter": "datum.src == 'SFR(<1kpc)'"}], "mark": {"type": "area", "opacity": 0.6, "clip": true}}
              ]
            },
            {
              "data": {"name": "fraction"},
              "mark": {"type": "line", "strokeWidth": 1.3, "clip": true},
              "encoding": {
                "x": {"field": "t", "type": "quantitative", "scale": {"domain": [118, 642], "nice": false, "zero": false},
                      "axis": {"title": "Cosmic Time [Myr]", "values": [150, 200, 250, 300, 350, 400, 450, 500, 550, 600], "grid": true, "titlePadding": 0}},
                "y": {"field": "f", "type": "quantitative", "scale": {"domain": [0, 1], "nice": false},
                      "axis": {"orient": "left", "title": "Mass Fraction", "values": [0.1, 0.2, 0.3, 0.4, 0.5, 0.6, 0.7, 0.8, 0.9], "format": ".1f", "grid": true, "titlePadding": 4.5}},
                "stroke": {"field": "s", "type": "nominal",
                           "scale": {"domain": ["Form in Star Cluster", "Gas Cloud (< 1kpc)", "Gas Cloud (< Rvir)", "Star Cluster (< 1kpc)", "Star Cluster (< Rvir)"], "range": ["#000000", "#0000ff", "#3030c8", "#ff0000", "#ff1010"]},
                           "legend": {"title": null, "orient": "none", "legendX": 167, "legendY": 5, "padding": 0, "columns": 2, "columnPadding": 10, "rowPadding": 1, "symbolType": "M-1.8,0H1.8", "symbolSize": 100, "symbolStrokeWidth": 1.5, "labelFontSize": 8.4, "labelOffset": 8}},
                "strokeDash": {"field": "s", "type": "nominal",
                           "scale": {"domain": ["Form in Star Cluster", "Gas Cloud (< 1kpc)", "Gas Cloud (< Rvir)", "Star Cluster (< 1kpc)", "Star Cluster (< Rvir)"], "range": [[1, 0], [5, 3], [1, 0], [5, 3], [1, 0]]},
                           "legend": {"title": null, "orient": "none", "legendX": 167, "legendY": 5, "padding": 0, "columns": 2, "columnPadding": 10, "rowPadding": 1, "symbolType": "M-1.8,0H1.8", "symbolSize": 100, "symbolStrokeWidth": 1.5, "labelFontSize": 8.4, "labelOffset": 8}}
              }
            },
            {
              "data": {"name": "redshift"},
              "mark": {"type": "rule", "opacity": 0},
              "encoding": {
                "x": {"field": "t", "type": "quantitative", "scale": {"domain": [118, 642], "nice": false, "zero": false},
                      "axis": {"orient": "top", "values": [129, 179, 268.5, 327.7, 364.8, 415.5, 471, 543, 634.5], "grid": false, "title": "Redshift", "titleFontStyle": "italic", "titleFontSize": 12, "titlePadding": 1,
                               "labelExpr": "datum.value < 130 ? '25' : datum.value < 180 ? '20' : datum.value < 270 ? '15' : datum.value < 330 ? '13' : datum.value < 370 ? '12' : datum.value < 420 ? '11' : datum.value < 480 ? '10' : datum.value < 550 ? '9' : '8'"}}
              }
            }
          ],
          "resolve": {"scale": {"y": "independent"}, "axis": {"x": "independent", "y": "independent"}}
        }
      ]
    },
    {
      "spacing": -1,
      "resolve": {"scale": {"color": "independent", "fill": "independent", "stroke": "independent", "strokeDash": "independent", "strokeWidth": "independent"}},
      "vconcat": [
        {
          "spacing": 4,
          "resolve": {"scale": {"color": "independent", "fill": "independent", "stroke": "independent", "strokeDash": "independent", "strokeWidth": "independent"}},
          "hconcat": [
            {
              "width": 211, "height": 177,
              "view": {"stroke": "#333333", "strokeWidth": 1.2},
              "data": {"name": "mf"},
              "encoding": {
                "x": {"field": "m", "type": "quantitative", "scale": {"domain": [3, 11], "nice": false, "zero": false},
                      "axis": {"values": [4, 5, 6, 7, 8, 9, 10], "labels": false, "title": null, "grid": true, "gridDash": [3, 3], "gridColor": "#d9d9d9"}},
                "y": {"field": "n", "type": "quantitative", "scale": {"domain": [-7.67, -2.95], "nice": false, "zero": false},
                      "axis": {"values": [-7.523, -7.398, -7.301, -7.222, -7.155, -7.097, -7.046, -7, -6.699, -6.523, -6.398, -6.301, -6.222, -6.155, -6.097, -6.046, -6, -5.699, -5.523, -5.398, -5.301, -5.222, -5.155, -5.097, -5.046, -5, -4.699, -4.523, -4.398, -4.301, -4.222, -4.155, -4.097, -4.046, -4, -3.699, -3.523, -3.398, -3.301, -3.222, -3.155, -3.097, -3.046, -3],
                               "labelExpr": "datum.value == -3 ? '10⁻³' : datum.value == -4 ? '10⁻⁴' : datum.value == -5 ? '10⁻⁵' : datum.value == -6 ? '10⁻⁶' : datum.value == -7 ? '10⁻⁷' : ''",
                               "labelOverlap": false, "labelFontSize": 9, "labelPadding": 7, "title": "dN/dVdLog₁₀M [ckpc⁻³]", "titleFontSize": 9, "titlePadding": 3,
                               "grid": true, "gridDash": [3, 3], "gridColor": "#d9d9d9",
                               "gridOpacity": {"condition": {"test": "datum.value % 1 == 0", "value": 1}, "value": 0},
                               "tickSize": {"condition": {"test": "datum.value % 1 == 0", "value": -4}, "value": -2}}}
              },
              "layer": [
                {"transform": [{"filter": "datum.p == 1 && isValid(datum.d)"}],
                 "mark": {"type": "errorband", "opacity": 0.35},
                 "encoding": {"yError": {"field": "d"},
                              "color": {"field": "k", "type": "nominal", "scale": {"domain": ["Star Clusters", "Gas Clouds", "Young Star Cluster"], "range": ["#000000", "#0000ff", "#ff0000"]}, "legend": null}}},
                {"transform": [{"filter": "datum.p == 1"}],
                 "mark": {"type": "line", "clip": true},
                 "encoding": {
                   "stroke": {"field": "k", "type": "nominal", "scale": {"domain": ["Star Clusters", "Best Fit @ z=8.0", "Gas Clouds", "Best Slope @ z=8.0", "Young Star Cluster"], "range": ["#111111", "#b3b3b3", "#0000ff", "#a9b1f2", "#ff0000"]},
                              "legend": {"title": null, "orient": "none", "legendX": 118, "legendY": 0, "padding": 0, "rowPadding": 0.5, "symbolType": "M-2.2,0H2.2", "symbolSize": 49, "symbolStrokeWidth": 1.6, "labelFontSize": 6.6, "labelOffset": 8}},
                   "strokeDash": {"field": "k", "type": "nominal", "scale": {"domain": ["Star Clusters", "Best Fit @ z=8.0", "Gas Clouds", "Best Slope @ z=8.0", "Young Star Cluster"], "range": [[1, 0], [6, 3], [1, 0], [6, 3], [1, 0]]},
                              "legend": {"title": null, "orient": "none", "legendX": 118, "legendY": 0, "padding": 0, "rowPadding": 0.5, "symbolType": "M-2.2,0H2.2", "symbolSize": 49, "symbolStrokeWidth": 1.6, "labelFontSize": 6.6, "labelOffset": 8}},
                   "strokeWidth": {"field": "k", "type": "nominal", "scale": {"domain": ["Star Clusters", "Best Fit @ z=8.0", "Gas Clouds", "Best Slope @ z=8.0", "Young Star Cluster"], "range": [1.3, 2, 1.3, 2, 1.3]}, "legend": null}
                 }},
                {"data": {"name": "zlabel"}, "transform": [{"filter": "datum.p == 1"}],
                 "mark": {"type": "text", "align": "left", "baseline": "middle", "fontSize": 13, "fontWeight": "bold", "font": "DejaVu Sans", "color": "#000000"},
                 "encoding": {"text": {"field": "label", "type": "nominal"}}}
              ]
            },
            {
              "width": 211, "height": 177,
              "view": {"stroke": "#333333", "strokeWidth": 1.2},
              "data": {"name": "mf"},
              "encoding": {
                "x": {"field": "m", "type": "quantitative", "scale": {"domain": [3, 11], "nice": false, "zero": false},
                      "axis": {"values": [4, 5, 6, 7, 8, 9, 10], "labels": false, "title": null, "grid": true, "gridDash": [3, 3], "gridColor": "#d9d9d9"}},
                "y": {"field": "n", "type": "quantitative", "scale": {"domain": [-7.67, -2.95], "nice": false, "zero": false},
                      "axis": {"values": [-7.523, -7.398, -7.301, -7.222, -7.155, -7.097, -7.046, -7, -6.699, -6.523, -6.398, -6.301, -6.222, -6.155, -6.097, -6.046, -6, -5.699, -5.523, -5.398, -5.301, -5.222, -5.155, -5.097, -5.046, -5, -4.699, -4.523, -4.398, -4.301, -4.222, -4.155, -4.097, -4.046, -4, -3.699, -3.523, -3.398, -3.301, -3.222, -3.155, -3.097, -3.046, -3],
                               "labels": false, "title": null,
                               "grid": true, "gridDash": [3, 3], "gridColor": "#d9d9d9",
                               "gridOpacity": {"condition": {"test": "datum.value % 1 == 0", "value": 1}, "value": 0},
                               "tickSize": {"condition": {"test": "datum.value % 1 == 0", "value": -4}, "value": -2}}}
              },
              "layer": [
                {"transform": [{"filter": "datum.p == 2 && isValid(datum.d)"}],
                 "mark": {"type": "errorband", "opacity": 0.35},
                 "encoding": {"yError": {"field": "d"},
                              "color": {"field": "k", "type": "nominal", "scale": {"domain": ["Star Clusters", "Gas Clouds", "Young Star Cluster"], "range": ["#000000", "#0000ff", "#ff0000"]}, "legend": null}}},
                {"transform": [{"filter": "datum.p == 2"}],
                 "mark": {"type": "line", "clip": true},
                 "encoding": {
                   "stroke": {"field": "k", "type": "nominal", "scale": {"domain": ["Star Clusters", "Best Fit @ z=8.0", "Gas Clouds", "Best Slope @ z=8.0", "Young Star Cluster"], "range": ["#111111", "#b3b3b3", "#0000ff", "#a9b1f2", "#ff0000"]}, "legend": null},
                   "strokeDash": {"field": "k", "type": "nominal", "scale": {"domain": ["Star Clusters", "Best Fit @ z=8.0", "Gas Clouds", "Best Slope @ z=8.0", "Young Star Cluster"], "range": [[1, 0], [6, 3], [1, 0], [6, 3], [1, 0]]}, "legend": null},
                   "strokeWidth": {"field": "k", "type": "nominal", "scale": {"domain": ["Star Clusters", "Best Fit @ z=8.0", "Gas Clouds", "Best Slope @ z=8.0", "Young Star Cluster"], "range": [1.3, 2, 1.3, 2, 1.3]}, "legend": null}
                 }},
                {"data": {"name": "zlabel"}, "transform": [{"filter": "datum.p == 2"}],
                 "mark": {"type": "text", "align": "left", "baseline": "middle", "fontSize": 13, "fontWeight": "bold", "font": "DejaVu Sans", "color": "#000000"},
                 "encoding": {"text": {"field": "label", "type": "nominal"}}}
              ]
            }
          ]
        },
        {
          "spacing": 4,
          "resolve": {"scale": {"color": "independent", "fill": "independent", "stroke": "independent", "strokeDash": "independent", "strokeWidth": "independent"}},
          "hconcat": [
            {
              "width": 211, "height": 177,
              "view": {"stroke": "#333333", "strokeWidth": 1.2},
              "data": {"name": "mf"},
              "encoding": {
                "x": {"field": "m", "type": "quantitative", "scale": {"domain": [3, 11], "nice": false, "zero": false},
                      "axis": {"values": [4, 5, 6, 7, 8, 9, 10], "labels": false, "title": null, "grid": true, "gridDash": [3, 3], "gridColor": "#d9d9d9"}},
                "y": {"field": "n", "type": "quantitative", "scale": {"domain": [-7.67, -2.95], "nice": false, "zero": false},
                      "axis": {"values": [-7.523, -7.398, -7.301, -7.222, -7.155, -7.097, -7.046, -7, -6.699, -6.523, -6.398, -6.301, -6.222, -6.155, -6.097, -6.046, -6, -5.699, -5.523, -5.398, -5.301, -5.222, -5.155, -5.097, -5.046, -5, -4.699, -4.523, -4.398, -4.301, -4.222, -4.155, -4.097, -4.046, -4, -3.699, -3.523, -3.398, -3.301, -3.222, -3.155, -3.097, -3.046, -3],
                               "labelExpr": "datum.value == -3 ? '10⁻³' : datum.value == -4 ? '10⁻⁴' : datum.value == -5 ? '10⁻⁵' : datum.value == -6 ? '10⁻⁶' : datum.value == -7 ? '10⁻⁷' : ''",
                               "labelOverlap": false, "labelFontSize": 9, "labelPadding": 7, "title": "dN/dVdLog₁₀M [ckpc⁻³]", "titleFontSize": 9, "titlePadding": 3,
                               "grid": true, "gridDash": [3, 3], "gridColor": "#d9d9d9",
                               "gridOpacity": {"condition": {"test": "datum.value % 1 == 0", "value": 1}, "value": 0},
                               "tickSize": {"condition": {"test": "datum.value % 1 == 0", "value": -4}, "value": -2}}}
              },
              "layer": [
                {"transform": [{"filter": "datum.p == 3 && isValid(datum.d)"}],
                 "mark": {"type": "errorband", "opacity": 0.35},
                 "encoding": {"yError": {"field": "d"},
                              "color": {"field": "k", "type": "nominal", "scale": {"domain": ["Star Clusters", "Gas Clouds", "Young Star Cluster"], "range": ["#000000", "#0000ff", "#ff0000"]}, "legend": null}}},
                {"transform": [{"filter": "datum.p == 3"}],
                 "mark": {"type": "line", "clip": true},
                 "encoding": {
                   "stroke": {"field": "k", "type": "nominal", "scale": {"domain": ["Star Clusters", "Best Fit @ z=8.0", "Gas Clouds", "Best Slope @ z=8.0", "Young Star Cluster"], "range": ["#111111", "#b3b3b3", "#0000ff", "#a9b1f2", "#ff0000"]}, "legend": null},
                   "strokeDash": {"field": "k", "type": "nominal", "scale": {"domain": ["Star Clusters", "Best Fit @ z=8.0", "Gas Clouds", "Best Slope @ z=8.0", "Young Star Cluster"], "range": [[1, 0], [6, 3], [1, 0], [6, 3], [1, 0]]}, "legend": null},
                   "strokeWidth": {"field": "k", "type": "nominal", "scale": {"domain": ["Star Clusters", "Best Fit @ z=8.0", "Gas Clouds", "Best Slope @ z=8.0", "Young Star Cluster"], "range": [1.3, 2, 1.3, 2, 1.3]}, "legend": null}
                 }}
              ]
            },
            {
              "width": 211, "height": 177,
              "view": {"stroke": "#333333", "strokeWidth": 1.2},
              "data": {"name": "mf"},
              "encoding": {
                "x": {"field": "m", "type": "quantitative", "scale": {"domain": [3, 11], "nice": false, "zero": false},
                      "axis": {"values": [4, 5, 6, 7, 8, 9, 10], "labels": false, "title": null, "grid": true, "gridDash": [3, 3], "gridColor": "#d9d9d9"}},
                "y": {"field": "n", "type": "quantitative", "scale": {"domain": [-7.67, -2.95], "nice": false, "zero": false},
                      "axis": {"values": [-7.523, -7.398, -7.301, -7.222, -7.155, -7.097, -7.046, -7, -6.699, -6.523, -6.398, -6.301, -6.222, -6.155, -6.097, -6.046, -6, -5.699, -5.523, -5.398, -5.301, -5.222, -5.155, -5.097, -5.046, -5, -4.699, -4.523, -4.398, -4.301, -4.222, -4.155, -4.097, -4.046, -4, -3.699, -3.523, -3.398, -3.301, -3.222, -3.155, -3.097, -3.046, -3],
                               "labels": false, "title": null,
                               "grid": true, "gridDash": [3, 3], "gridColor": "#d9d9d9",
                               "gridOpacity": {"condition": {"test": "datum.value % 1 == 0", "value": 1}, "value": 0},
                               "tickSize": {"condition": {"test": "datum.value % 1 == 0", "value": -4}, "value": -2}}}
              },
              "layer": [
                {"transform": [{"filter": "datum.p == 4 && isValid(datum.d)"}],
                 "mark": {"type": "errorband", "opacity": 0.35},
                 "encoding": {"yError": {"field": "d"},
                              "color": {"field": "k", "type": "nominal", "scale": {"domain": ["Star Clusters", "Gas Clouds", "Young Star Cluster"], "range": ["#000000", "#0000ff", "#ff0000"]}, "legend": null}}},
                {"transform": [{"filter": "datum.p == 4"}],
                 "mark": {"type": "line", "clip": true},
                 "encoding": {
                   "stroke": {"field": "k", "type": "nominal", "scale": {"domain": ["Star Clusters", "Best Fit @ z=8.0", "Gas Clouds", "Best Slope @ z=8.0", "Young Star Cluster"], "range": ["#111111", "#b3b3b3", "#0000ff", "#a9b1f2", "#ff0000"]}, "legend": null},
                   "strokeDash": {"field": "k", "type": "nominal", "scale": {"domain": ["Star Clusters", "Best Fit @ z=8.0", "Gas Clouds", "Best Slope @ z=8.0", "Young Star Cluster"], "range": [[1, 0], [6, 3], [1, 0], [6, 3], [1, 0]]}, "legend": null},
                   "strokeWidth": {"field": "k", "type": "nominal", "scale": {"domain": ["Star Clusters", "Best Fit @ z=8.0", "Gas Clouds", "Best Slope @ z=8.0", "Young Star Cluster"], "range": [1.3, 2, 1.3, 2, 1.3]}, "legend": null}
                 }}
              ]
            }
          ]
        }
      ]
    }
  ],
  "config": {
    "font": "DejaVu Sans",
    "axis": {"labelFont": "DejaVu Sans", "titleFont": "DejaVu Sans", "labelColor": "#000000", "titleColor": "#000000", "tickColor": "#000000",
             "labelFontSize": 11, "titleFontSize": 11, "titleFontWeight": "normal", "domain": false,
             "gridColor": "#d5d5d5", "gridWidth": 0.8, "tickSize": -4, "labelPadding": 7},
    "legend": {"labelFont": "DejaVu Sans", "labelColor": "#222222"},
    "text": {"font": "DejaVu Sans"}
  }
}
